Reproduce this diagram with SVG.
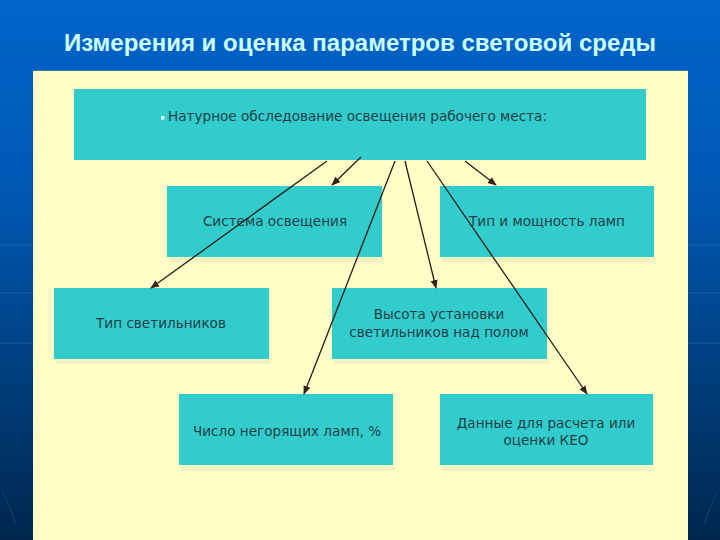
<svg xmlns="http://www.w3.org/2000/svg" width="720" height="540" viewBox="0 0 720 540">
<defs>
<linearGradient id="bg" x1="0" y1="0" x2="0" y2="1">
<stop offset="0" stop-color="#0064CA"/>
<stop offset="0.35" stop-color="#0058B4"/>
<stop offset="0.7" stop-color="#003E7C"/>
<stop offset="1" stop-color="#00264E"/>
</linearGradient>
<marker id="ah" viewBox="0 0 10 10" refX="9" refY="5" markerWidth="9" markerHeight="9" markerUnits="userSpaceOnUse" orient="auto">
<path d="M0,1 L10,5 L0,9 Z" fill="#3a1f1a"/>
</marker>
<style>
.box{fill:#33CCCC;}
.shadow{fill:#F4F0C0;}
.t{font-family:"DejaVu Sans",Verdana,sans-serif;font-size:13.6px;fill:#1F3F48;text-anchor:middle;}
.c{stroke:#2a1a14;stroke-width:1.3;fill:none;marker-end:url(#ah);}
.deco{stroke:#4A86C8;stroke-width:1;opacity:0.35;}
</style>
</defs>
<rect x="0" y="0" width="720" height="540" fill="url(#bg)"/>
<g id="decor">
<line class="deco" x1="0" y1="245" x2="33" y2="245"/>
<line class="deco" x1="0" y1="293" x2="33" y2="293"/>
<line class="deco" x1="0" y1="343" x2="33" y2="343"/>
<line class="deco" x1="688" y1="245" x2="720" y2="245"/>
<line class="deco" x1="688" y1="293" x2="720" y2="293"/>
<line class="deco" x1="688" y1="343" x2="720" y2="343"/>
<path d="M2,490 Q10,505 16,525" stroke="#2E5C8C" stroke-width="1" fill="none" opacity="0.5"/>
<path d="M718,490 Q710,505 704,525" stroke="#2E5C8C" stroke-width="1" fill="none" opacity="0.5"/>
</g>
<text id="title" x="360" y="51" font-family="'Liberation Sans',Arial,sans-serif" font-size="24" font-weight="bold" fill="#CCFFFF" text-anchor="middle">Измерения и оценка параметров световой среды</text>
<rect x="33" y="70" width="655" height="470" fill="#FFFFC8"/>
<line x1="33" y1="70.5" x2="688" y2="70.5" stroke="#3A7FA0" stroke-width="1"/>

<g id="n-top">
<rect class="box" x="74" y="89" width="572" height="71"/>
<rect x="161" y="116" width="3.5" height="3.5" fill="#E8FFFF"/>
<text class="t" x="168" y="121" style="text-anchor:start">Натурное обследование освещения рабочего места:</text>
</g>
<g id="n-system">
<rect class="shadow" x="169" y="258" width="215" height="4"/>
<rect class="box" x="167" y="186" width="215" height="71"/>
<text class="t" x="275" y="226">Система освещения</text>
</g>
<g id="n-lamps">
<rect class="shadow" x="442" y="258" width="214" height="4"/>
<rect class="box" x="440" y="186" width="214" height="71"/>
<text class="t" x="547" y="226">Тип и мощность ламп</text>
</g>
<g id="n-luminaires">
<rect class="shadow" x="56" y="360" width="215" height="4"/>
<rect class="box" x="54" y="288" width="215" height="71"/>
<text class="t" x="161" y="328">Тип светильников</text>
</g>
<g id="n-height">
<rect class="shadow" x="334" y="360" width="215" height="4"/>
<rect class="box" x="332" y="288" width="215" height="71"/>
<text class="t" x="439" y="319">Высота установки</text>
<text class="t" x="439" y="337">светильников над полом</text>
</g>
<g id="n-failed">
<rect class="shadow" x="181" y="467" width="214" height="4"/>
<rect class="box" x="179" y="394" width="214" height="71"/>
<text class="t" x="287" y="436">Число негорящих ламп, %</text>
</g>
<g id="n-keo">
<rect class="shadow" x="442" y="467" width="213" height="4"/>
<rect class="box" x="440" y="394" width="213" height="71"/>
<text class="t" x="546" y="428">Данные для расчета или</text>
<text class="t" x="546" y="445">оценки КЕО</text>
</g>

<g id="connectors">
<line class="c" x1="327" y1="161" x2="151" y2="288"/>
<line class="c" x1="361" y1="157" x2="332" y2="185"/>
<line class="c" x1="395" y1="161" x2="304" y2="394"/>
<line class="c" x1="405" y1="161" x2="436" y2="288"/>
<line class="c" x1="427" y1="161" x2="587" y2="394"/>
<line class="c" x1="465" y1="161" x2="496" y2="185"/>
</g>
</svg>
